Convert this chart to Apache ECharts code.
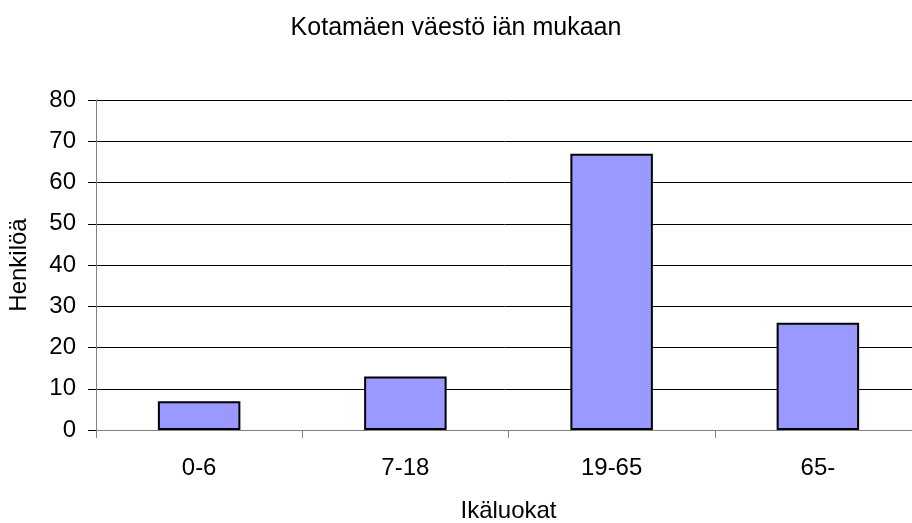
<!DOCTYPE html>
<html><head><meta charset="utf-8">
<script src="https://cdn.jsdelivr.net/npm/echarts@6/dist/echarts.min.js"></script>
<style>html,body{margin:0;padding:0;background:#fff}#c{width:912px;height:523px}</style>
</head><body><div id="c"></div>
<script>
const categories = ['0-6', '7-18', '19-65', '65-'];
const values = [7, 13, 67, 26];
const yTicks = [0, 10, 20, 30, 40, 50, 60, 70, 80];
const font = 'Liberation Sans, Arial, sans-serif';
const chart = echarts.init(document.getElementById('c'), null, {renderer: 'canvas'});
chart.setOption({
  animation: false,
  backgroundColor: '#fff',
  title: {
    text: 'Kotamäen väestö iän mukaan',
    left: 'center', top: 11,
    textStyle: {fontFamily: font, fontSize: 25, fontWeight: 'normal', color: '#000'}
  },
  grid: {left: 96, top: 100, width: 825, height: 330, containLabel: false, outerBoundsMode: 'none'},
  xAxis: {
    type: 'category', data: categories,
    name: 'Ikäluokat', nameLocation: 'middle', nameGap: 69,
    nameTextStyle: {fontFamily: font, fontSize: 24, color: '#000'},
    axisLine: {lineStyle: {color: '#808080', width: 1}},
    axisTick: {show: true, length: 8, alignWithLabel: false, lineStyle: {color: '#808080'}},
    axisLabel: {fontFamily: font, fontSize: 24, color: '#000', margin: 26}
  },
  yAxis: {
    type: 'value', min: yTicks[0], max: yTicks[yTicks.length - 1], interval: 10,
    name: 'Henkilöä', nameLocation: 'middle', nameGap: 65, nameRotate: 90,
    nameTextStyle: {fontFamily: font, fontSize: 24, color: '#000'},
    axisLine: {show: true, lineStyle: {color: '#808080', width: 1}},
    axisTick: {show: true, length: 8, lineStyle: {color: '#000'}},
    axisLabel: {fontFamily: font, fontSize: 24, color: '#000', margin: 20},
    splitLine: {lineStyle: {color: '#000', width: 1}}
  },
  series: [{
    type: 'bar', data: values, barWidth: '40%',
    itemStyle: {color: '#9999FF', borderColor: '#000', borderWidth: 2}
  }]
});
</script></body></html>
